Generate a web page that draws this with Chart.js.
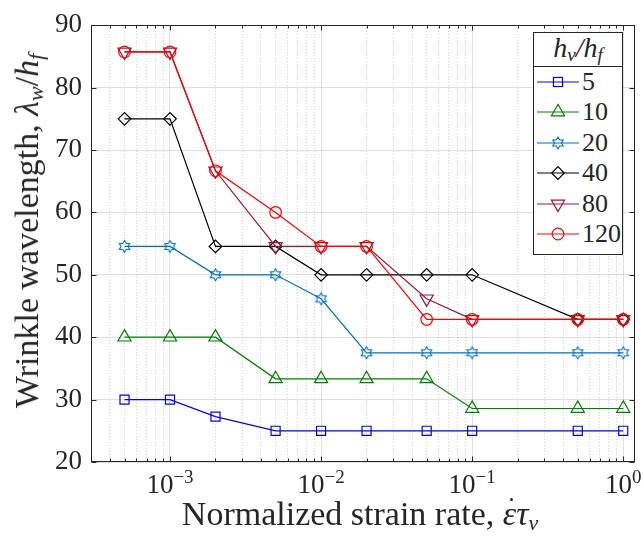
<!DOCTYPE html>
<html>
<head>
<meta charset="utf-8">
<script src="https://cdn.jsdelivr.net/npm/chart.js@4.4.1/dist/chart.umd.min.js"></script>
<style>
  html, body { margin: 0; padding: 0; background: #fff; }
  #wrap {
    position: relative; width: 644px; height: 545px;
    font-family: "Liberation Serif", "DejaVu Serif", serif; color: #262626;
  }
  #chart { position: absolute; left: 0; top: 0; }
  .xtitle {
    position: absolute; left: 86px; width: 548px; top: 496px;
    text-align: center; font-size: 34px; white-space: nowrap; line-height: 36px;
  }
  .ytitle {
    position: absolute; left: 27px; top: 231px; line-height: 36px;
    transform: translate(-50%, -50%) rotate(-90deg);
    font-size: 34px; white-space: nowrap;
  }
  sub { font-size: 22px; vertical-align: -5px; line-height: 0; }
  .eps { position: relative; }
  .eps::after {
    content: ""; position: absolute; left: 55%; top: 3px;
    width: 3px; height: 3px; border-radius: 50%; background: #262626;
  }
  #legend {
    position: absolute; left: 533px; top: 32px; width: 88px; height: 221px;
    border: 1px solid #262626; background: #fff; box-sizing: content-box;
  }
  #legend .ttl {
    height: 33px; border-bottom: 1px solid #262626;
    text-align: center; font-size: 28px; line-height: 30px; font-style: italic;
  }
  #legend .ttl sub { font-size: 19px; vertical-align: -4px; }
  #legend .row { position: relative; height: 30.4px; }
  #legend svg { position: absolute; left: 3px; top: 5px; }
  #legend .lbl { position: absolute; left: 48px; top: 0; font-size: 26px; line-height: 30.4px; }
</style>
</head>
<body>
<div id="wrap">
  <canvas id="chart" width="644" height="545"></canvas>
  <div class="xtitle">Normalized strain rate, <i class="eps">ε</i><i>τ</i><sub><i>v</i></sub></div>
  <div class="ytitle">Wrinkle wavelength, <i>λ</i><sub><i>w</i></sub>/<i>h</i><sub><i>f</i></sub></div>
  <div id="legend">
    <div class="ttl">h<sub>v</sub>/h<sub>f</sub></div>
    <div id="legend-rows"></div>
  </div>
</div>
<script>
/* ══════════════════════════════════════
   DATA
══════════════════════════════════════ */
const strainRates = [5e-4, 1e-3, 2e-3, 5e-3, 1e-2, 2e-2, 5e-2, 1e-1, 5e-1, 1];

const ratioLabels = ["5", "10", "20", "40", "80", "120"];

const lambda5 = [30, 30, 27.27, 25, 25, 25, 25, 25, 25, 25];
const lambda10 = [40, 40, 40, 33.33, 33.33, 33.33, 33.33, 28.57, 28.57, 28.57];
const lambda20 = [54.55, 54.55, 50, 50, 46.15, 37.5, 37.5, 37.5, 37.5, 37.5];
const lambda40 = [75, 75, 54.55, 54.55, 50, 50, 50, 50, 42.86, 42.86];
const lambda80 = [85.71, 85.71, 66.67, 54.55, 54.55, 54.55, 46.15, 42.86, 42.86, 42.86];
const lambda120 = [85.71, 85.71, 66.67, 60, 54.55, 54.55, 42.86, 42.86, 42.86, 42.86];

const yTicks = [20, 30, 40, 50, 60, 70, 80, 90];
const xMajorTicks = [1e-3, 1e-2, 1e-1, 1];
const xTickExponents = ["\u22123", "\u22122", "\u22121", "0"];
const xMinorTicks = [
  3e-4, 4e-4, 5e-4, 6e-4, 7e-4, 8e-4, 9e-4,
  2e-3, 3e-3, 4e-3, 5e-3, 6e-3, 7e-3, 8e-3, 9e-3,
  2e-2, 3e-2, 4e-2, 5e-2, 6e-2, 7e-2, 8e-2, 9e-2,
  2e-1, 3e-1, 4e-1, 5e-1, 6e-1, 7e-1, 8e-1, 9e-1,
];

/* ══════════════════════════════════════
   STYLES
══════════════════════════════════════ */
const AXIS = "#262626";
const FONT = '"Liberation Serif", "DejaVu Serif", serif';

function hexagram(color, r) {
  const c = document.createElement("canvas");
  const s = Math.ceil(r * 2 + 3);
  c.width = s;
  c.height = s;
  const g = c.getContext("2d");
  g.strokeStyle = color;
  g.lineWidth = 1.1;
  g.beginPath();
  for (let k = 0; k < 12; k++) {
    const rad = k % 2 === 0 ? r : r / Math.sqrt(3);
    const a = -Math.PI / 2 + (k * Math.PI) / 6;
    const px = s / 2 + rad * Math.cos(a);
    const py = s / 2 + rad * Math.sin(a);
    if (k === 0) g.moveTo(px, py);
    else g.lineTo(px, py);
  }
  g.closePath();
  g.stroke();
  return c;
}

const series = [
  { data: lambda5, color: "#0000ff", style: "rect", radius: 6.4, rotation: 0 },
  { data: lambda10, color: "#008000", style: "triangle", radius: 7.6, rotation: 0 },
  { data: lambda20, color: "#0072bd", style: hexagram("#0072bd", 6), radius: 6, rotation: 0 },
  { data: lambda40, color: "#000000", style: "rectRot", radius: 6.3, rotation: 0 },
  { data: lambda80, color: "#a2142f", style: "triangle", radius: 7.6, rotation: 180 },
  { data: lambda120, color: "#ff0000", style: "circle", radius: 5.8, rotation: 0 },
];

const datasets = series.map((s, i) => ({
  label: ratioLabels[i],
  data: strainRates.map((x, j) => ({ x, y: s.data[j] })),
  borderColor: s.color,
  borderWidth: 1.2,
  pointStyle: s.style,
  pointRadius: s.radius,
  pointRotation: s.rotation,
  pointBorderColor: s.color,
  pointBorderWidth: 1.2,
  pointBackgroundColor: "rgba(0,0,0,0)",
  tension: 0,
  order: series.length - i,
}));

/* ══════════════════════════════════════
   FRAME, INWARD TICKS, X LABELS
══════════════════════════════════════ */
const framePlugin = {
  id: "frame",
  afterDraw(chart) {
    const { ctx, chartArea: a, scales } = chart;
    const L = Math.round(a.left) + 0.5;
    const R = Math.round(a.right) - 0.5;
    const T = Math.round(a.top) + 0.5;
    const B = Math.round(a.bottom) - 0.5;

    ctx.save();
    ctx.strokeStyle = AXIS;
    ctx.lineWidth = 1;
    ctx.beginPath();

    yTicks.forEach((v) => {
      const py = Math.round(scales.y.getPixelForValue(v)) + 0.5;
      ctx.moveTo(L, py); ctx.lineTo(L + 5, py);
      ctx.moveTo(R, py); ctx.lineTo(R - 5, py);
    });

    xMajorTicks.forEach((v) => {
      const px = Math.round(scales.x.getPixelForValue(v)) + 0.5;
      ctx.moveTo(px, B); ctx.lineTo(px, B - 5);
      ctx.moveTo(px, T); ctx.lineTo(px, T + 5);
    });

    xMinorTicks.forEach((v) => {
      const px = Math.round(scales.x.getPixelForValue(v)) + 0.5;
      ctx.moveTo(px, B); ctx.lineTo(px, B - 3);
      ctx.moveTo(px, T); ctx.lineTo(px, T + 3);
    });
    ctx.stroke();

    ctx.strokeRect(L, T, R - L, B - T);

    // x tick labels 10^n
    ctx.fillStyle = AXIS;
    ctx.textBaseline = "alphabetic";
    ctx.textAlign = "left";
    xMajorTicks.forEach((v, i) => {
      const px = scales.x.getPixelForValue(v);
      ctx.font = `27px ${FONT}`;
      const wBase = ctx.measureText("10").width;
      ctx.font = `19px ${FONT}`;
      const wExp = ctx.measureText(xTickExponents[i]).width;
      const x0 = px - (wBase + wExp) / 2;
      ctx.font = `27px ${FONT}`;
      ctx.fillText("10", x0, a.bottom + 31);
      ctx.font = `19px ${FONT}`;
      ctx.fillText(xTickExponents[i], x0 + wBase, a.bottom + 21);
    });

    ctx.restore();
  },
};

/* ══════════════════════════════════════
   CHART
══════════════════════════════════════ */
new Chart(document.getElementById("chart"), {
  type: "line",
  data: { datasets },
  options: {
    responsive: false,
    animation: false,
    layout: { padding: { left: 0, right: 5, top: 16, bottom: 0 } },
    plugins: { legend: { display: false }, tooltip: { enabled: false } },
    scales: {
      x: {
        type: "logarithmic",
        position: "bottom",
        min: 3e-4,
        max: 1.2,
        afterBuildTicks: (scale) => {
          scale.ticks = xMajorTicks.map((value) => ({ value }));
        },
        afterFit: (scale) => { scale.height = 83; },
        ticks: { display: false },
        grid: { color: "rgba(38,38,38,0.15)", drawTicks: false },
        border: { display: false },
      },
      xm: {
        type: "logarithmic",
        position: "top",
        min: 3e-4,
        max: 1.2,
        afterBuildTicks: (scale) => {
          scale.ticks = xMinorTicks.map((value) => ({ value }));
        },
        afterFit: (scale) => { scale.height = 0; },
        ticks: { display: false },
        grid: { color: "rgba(38,38,38,0.2)", drawTicks: false },
        border: { display: false, dash: [1, 2] },
      },
      y: {
        type: "linear",
        min: 20,
        max: 90,
        afterBuildTicks: (scale) => {
          scale.ticks = yTicks.map((value) => ({ value }));
        },
        afterFit: (scale) => { scale.width = 91; },
        ticks: {
          color: AXIS,
          padding: 9,
          font: { family: FONT, size: 27 },
        },
        grid: { color: "rgba(38,38,38,0.15)", drawTicks: false },
        border: { display: false },
      },
    },
  },
  plugins: [framePlugin],
});

/* ══════════════════════════════════════
   LEGEND
══════════════════════════════════════ */
function markerSvg(s) {
  const cx = 21, cy = 10, c = s.color;
  const sw = 'stroke-width="1.2" fill="none"';
  if (s.style === "rect") {
    const h = s.radius * Math.SQRT1_2;
    return `<rect x="${cx - h}" y="${cy - h}" width="${2 * h}" height="${2 * h}" stroke="${c}" ${sw}/>`;
  }
  if (s.style === "circle") {
    return `<circle cx="${cx}" cy="${cy}" r="${s.radius}" stroke="${c}" ${sw}/>`;
  }
  if (s.style === "rectRot") {
    const r = s.radius;
    return `<polygon points="${cx},${cy - r} ${cx + r},${cy} ${cx},${cy + r} ${cx - r},${cy}" stroke="${c}" ${sw}/>`;
  }
  if (s.style === "triangle") {
    const pts = [0, 1, 2].map((k) => {
      const a = ((s.rotation + k * 120) * Math.PI) / 180;
      return `${cx + Math.sin(a) * s.radius},${cy - Math.cos(a) * s.radius}`;
    });
    return `<polygon points="${pts.join(" ")}" stroke="${c}" ${sw}/>`;
  }
  const pts = [];
  for (let k = 0; k < 12; k++) {
    const rad = k % 2 === 0 ? 6 : 6 / Math.sqrt(3);
    const a = -Math.PI / 2 + (k * Math.PI) / 6;
    pts.push(`${cx + rad * Math.cos(a)},${cy + rad * Math.sin(a)}`);
  }
  return `<polygon points="${pts.join(" ")}" stroke="${c}" stroke-width="1.1" fill="none"/>`;
}

document.getElementById("legend-rows").innerHTML = series
  .map(
    (s, i) => `
    <div class="row">
      <svg width="42" height="20">
        <line x1="0" y1="10" x2="42" y2="10" stroke="${s.color}" stroke-width="1.2"/>
        ${markerSvg(s)}
      </svg>
      <span class="lbl">${ratioLabels[i]}</span>
    </div>`
  )
  .join("");
</script>
</body>
</html>
